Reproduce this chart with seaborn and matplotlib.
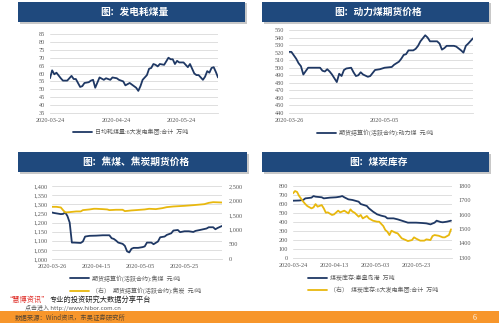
import matplotlib
matplotlib.use('Agg')
import matplotlib.pyplot as plt
import seaborn as sns
import pandas as pd
from matplotlib.patches import Rectangle

# ---------------- data ----------------
# Panel 1: 日均耗煤量 (day offset from 2020-03-24)
p1_days = [0, 1, 2, 3, 5, 6, 8, 9, 10, 11, 12, 13, 14, 15, 16, 18, 19, 20, 21, 23, 25, 26, 28, 29, 31, 32,
           34, 35, 37, 38, 40, 41, 42, 43, 45, 46, 47, 48, 49, 50, 51, 53, 55, 56, 57, 58, 59, 60, 62, 63,
           64, 65, 67, 68, 69, 71, 72, 73, 74, 75, 76, 77, 78]
p1_vals = [57, 62, 59.5, 60.5, 57, 55.5, 55.5, 57, 58.5, 56.5, 56.5, 54, 51.5, 52, 54, 54.5, 55.5, 56, 51,
           57.5, 56, 57, 56, 57.5, 57, 56, 55, 52.5, 54, 53, 51, 49, 52, 56, 59, 63, 63.5, 66, 65.5, 64.5,
           66, 65.5, 70, 69, 69, 66, 68, 67, 67, 65.5, 64, 66, 60, 59, 59, 56, 58, 61.5, 60.5, 63.5, 64, 61, 57.5]
p1_xticks = [0, 31, 61]
p1_xlabels = ['2020-03-24', '2020-04-24', '2020-05-24']
p1_yticks = [35, 40, 45, 50, 55, 60, 65, 70, 75, 80, 85]

# Panel 2: 动力煤期货 (day offset from 2020-03-26)
p2_days = [0, 1, 3, 4, 5, 6, 8, 9, 13, 14, 15, 16, 17, 18, 20, 21, 22, 23, 24, 26, 27, 28, 29, 30, 31, 33,
           34, 36, 38, 40, 43, 44, 46, 47, 48, 49, 50, 52, 53, 54, 55, 57, 58, 59, 61, 62, 63, 64, 65, 66,
           69, 70, 72, 73, 74, 75, 77]
p2_vals = [521, 521, 512, 506, 502, 491, 500, 500, 500, 496, 495, 498, 495, 491, 481, 492, 489, 497, 499,
           500, 494, 489, 490, 494, 491, 488, 489, 497, 498, 500, 501, 504, 508, 512, 517, 518, 523, 523,
           525, 529, 535, 543, 540, 535, 535, 535, 532, 524, 526, 529, 529, 528, 523, 520, 529, 532, 539]
p2_xticks = [0, 40]
p2_xlabels = ['2020-03-26', '2020-05-05']
p2_yticks = [440, 450, 460, 470, 480, 490, 500, 510, 520, 530, 540, 550]

# Panel 3: 焦煤 / 焦炭 (day offset from 2020-03-26)
p3_coal_days = [0, 1, 2, 4, 5, 6, 7, 8, 9, 10, 13, 14, 15, 17, 20, 23, 26, 27, 28, 29, 30, 32, 33, 34, 35,
                36, 37, 39, 41, 42, 43, 45, 46, 48, 49, 51, 52, 54, 55, 57, 58, 60, 62, 64, 65, 67, 70, 71,
                73, 74, 75, 77]
p3_coal_vals = [1255, 1252, 1250, 1246, 1247, 1255, 1235, 1200, 1090, 1090, 1088, 1096, 1123, 1127, 1128,
                1130, 1130, 1114, 1110, 1101, 1090, 1083, 1072, 1042, 1036, 1056, 1061, 1061, 1065, 1069,
                1090, 1090, 1081, 1096, 1119, 1123, 1132, 1141, 1156, 1159, 1147, 1152, 1152, 1148, 1154,
                1159, 1167, 1174, 1174, 1163, 1170, 1181]
p3_coke_days = [0, 2, 4, 5, 6, 8, 11, 13, 14, 17, 19, 20, 23, 25, 26, 29, 32, 33, 36, 38, 42, 44, 47, 50,
                52, 55, 60, 64, 69, 71, 73, 77]
p3_coke_vals = [1787, 1787, 1765, 1674, 1595, 1606, 1629, 1629, 1674, 1697, 1720, 1720, 1708, 1697, 1674,
                1686, 1686, 1640, 1663, 1674, 1697, 1720, 1708, 1742, 1776, 1799, 1821, 1844, 1878, 1923,
                1946, 1935]
p3_xticks = [0, 20, 40, 60]
p3_xlabels = ['2020-03-26', '2020-04-15', '2020-05-05', '2020-05-25']
p3_lticks = [1000, 1050, 1100, 1150, 1200, 1250, 1300, 1350, 1400]
p3_rticks = [0, 500, 1000, 1500, 2000, 2500]

# Panel 4: 煤炭库存 (day offset from 2020-03-24)
p4_port_days = [0, 3, 5, 6, 9, 10, 11, 14, 15, 18, 21, 23, 24, 25, 27, 29, 32, 33, 36, 37, 39, 41, 43, 45,
                46, 49, 51, 54, 56, 60, 63, 65, 67, 69, 70, 72, 73, 75, 77]
p4_port_vals = [636, 638, 644, 662, 670, 688, 681, 674, 662, 670, 674, 681, 688, 674, 651, 644, 625, 599,
                577, 551, 514, 484, 469, 458, 439, 439, 428, 406, 391, 391, 387, 383, 372, 391, 413, 398,
                395, 402, 413]
p4_plant_days = [0, 1, 2, 3, 5, 6, 7, 9, 10, 11, 12, 14, 15, 16, 17, 19, 20, 22, 23, 25, 27, 28, 29, 30,
                 32, 33, 34, 36, 37, 39, 41, 42, 44, 45, 46, 47, 48, 50, 51, 53, 55, 56, 58, 59, 60, 62, 64,
                 65, 67, 68, 69, 71, 73, 74, 76, 77]
p4_plant_vals = [1749, 1765, 1758, 1730, 1691, 1674, 1660, 1644, 1651, 1674, 1656, 1667, 1644, 1614, 1616,
                 1598, 1602, 1628, 1616, 1628, 1609, 1637, 1621, 1614, 1586, 1598, 1574, 1591, 1574, 1558,
                 1551, 1551, 1521, 1493, 1481, 1458, 1488, 1474, 1470, 1435, 1423, 1416, 1423, 1442, 1433,
                 1419, 1419, 1428, 1423, 1451, 1458, 1453, 1442, 1442, 1458, 1498]
p4_xticks = [0, 20, 40, 60]
p4_xlabels = ['2020-03-24', '2020-04-13', '2020-05-03', '2020-05-23']
p4_lticks = [0, 100, 200, 300, 400, 500, 600, 700, 800]
p4_rticks = [1300, 1400, 1500, 1600, 1700, 1800]

titles = ['图：发电耗煤量', '图：动力煤期货价格', '图：焦煤、焦炭期货价格', '图：煤炭库存']
leg1 = '日均耗煤量:6大发电集团:合计  万吨'
leg2 = '期货结算价(活跃合约):动力煤  元/吨'
leg3a = '期货结算价(活跃合约):焦煤  元/吨'
leg3b = '（右）  期货结算价(活跃合约):焦炭  元/吨'
leg4a = '煤炭库存:秦皇岛港  万吨'
leg4b = '（右）  煤炭库存:6大发电集团:合计  万吨'

# ---------------- style ----------------
sns.set_style('white')
plt.rcParams['font.family'] = ['Liberation Serif', 'Noto Sans CJK SC', 'DejaVu Sans']
NAVY = '#1F3864'
GOLD = '#E8B80E'
BAR = '#1F497D'
GRID = '#D9D9D9'
TXT = '#595959'
CJK = ['Noto Sans CJK SC', 'DejaVu Sans']

W, H = 499, 323
fig = plt.figure(figsize=(W / 100, H / 100), dpi=100)


def add_ax(l, t, r, b):
    return fig.add_axes([l / W, 1 - b / H, (r - l) / W, (b - t) / H])


def title_bar(l, t, r, b, text):
    fig.patches.append(Rectangle(((l + 1.5) / W, 1 - (b + 1.5) / H), (r - l) / W, (b - t) / H,
                                 transform=fig.transFigure, facecolor='#C8C8C8', edgecolor='none', zorder=0))
    fig.patches.append(Rectangle((l / W, 1 - b / H), (r - l) / W, (b - t) / H,
                                 transform=fig.transFigure, facecolor=BAR, edgecolor='none', zorder=1))
    fig.text((l + r) / 2 / W + 0.006, 1 - (t + b) / 2 / H, text, color='white', fontsize=7,
             fontweight='bold', family=CJK, ha='center', va='center')


def style(ax, yticks, ylabels, xticks, xlabels, xlim):
    ax.set_xlim(*xlim)
    ax.set_ylim(yticks[0], yticks[-1])
    ax.set_yticks(yticks)
    ax.set_yticklabels(ylabels)
    ax.set_xticks(xticks)
    ax.set_xticklabels(xlabels)
    ax.grid(axis='y', color=GRID, lw=0.6)
    ax.grid(axis='x', visible=False)
    for s in ['top', 'right', 'left']:
        ax.spines[s].set_visible(False)
    ax.spines['bottom'].set_color(GRID)
    ax.spines['bottom'].set_linewidth(0.6)
    ax.tick_params(length=0, labelsize=4.5, colors=TXT, pad=3.5)
    ax.set_xlabel('')
    ax.set_ylabel('')
    ax.set_facecolor('none')


def legend(ax, handles, labels, x, y):
    ax.legend(handles, labels, loc='upper left', bbox_to_anchor=(x / W, 1 - y / H),
              bbox_transform=fig.transFigure, frameon=False, fontsize=4.3, borderpad=0,
              borderaxespad=0, handlelength=3.2, handletextpad=0.5, labelspacing=0.9,
              labelcolor=TXT)


fmt_c = lambda v: f'{v:,}'

# ---- Panel 1 ----
title_bar(18, 2, 245, 22, titles[0])
ax1 = add_ax(50, 34, 218, 113)
sns.lineplot(x=p1_days, y=p1_vals, ax=ax1, color=NAVY, lw=1.3, label=leg1)
style(ax1, p1_yticks, [str(v) for v in p1_yticks], p1_xticks, p1_xlabels, (0, 78))
h, l = ax1.get_legend_handles_labels()
legend(ax1, h, l, 73, 129.5)

# ---- Panel 2 ----
title_bar(262, 2, 489, 22, titles[1])
ax2 = add_ax(289, 30, 473, 113)
sns.lineplot(x=p2_days, y=p2_vals, ax=ax2, color=NAVY, lw=1.3, label=leg2)
style(ax2, p2_yticks, [str(v) for v in p2_yticks], p2_xticks, p2_xlabels, (0, 77))
h, l = ax2.get_legend_handles_labels()
legend(ax2, h, l, 317, 129.5)

# ---- Panel 3 ----
title_bar(18, 152, 247, 172, titles[2])
ax3 = add_ax(52, 186, 222, 259)
ax3r = ax3.twinx()
sns.lineplot(x=p3_coal_days, y=p3_coal_vals, ax=ax3, color=NAVY, lw=1.3, label=leg3a)
sns.lineplot(x=p3_coke_days, y=p3_coke_vals, ax=ax3r, color=GOLD, lw=1.3, label=leg3b)
style(ax3, p3_lticks, [fmt_c(v) for v in p3_lticks], p3_xticks, p3_xlabels, (0, 77))
ax3r.set_ylim(p3_rticks[0], p3_rticks[-1])
ax3r.set_yticks(p3_rticks)
ax3r.set_yticklabels([fmt_c(v) for v in p3_rticks])
ax3r.grid(False)
for s in ax3r.spines.values():
    s.set_visible(False)
ax3r.tick_params(length=0, labelsize=4.5, colors=TXT, pad=5)
ax3r.set_ylabel('')
h1, l1 = ax3.get_legend_handles_labels()
h2, l2 = ax3r.get_legend_handles_labels()
if ax3r.get_legend():
    ax3r.get_legend().remove()
legend(ax3, h1 + h2, l1 + l2, 70, 275)

# ---- Panel 4 ----
title_bar(262, 152, 489, 172, titles[3])
ax4 = add_ax(293, 186, 452, 257.7)
ax4r = ax4.twinx()
sns.lineplot(x=p4_port_days, y=p4_port_vals, ax=ax4, color=NAVY, lw=1.3, label=leg4a)
sns.lineplot(x=p4_plant_days, y=p4_plant_vals, ax=ax4r, color=GOLD, lw=1.3, label=leg4b)
style(ax4, p4_lticks, [str(v) for v in p4_lticks], p4_xticks, p4_xlabels, (0, 77.5))
ax4r.set_ylim(p4_rticks[0], p4_rticks[-1])
ax4r.set_yticks(p4_rticks)
ax4r.set_yticklabels([str(v) for v in p4_rticks])
ax4r.grid(False)
for s in ax4r.spines.values():
    s.set_visible(False)
ax4r.tick_params(length=0, labelsize=4.5, colors=TXT, pad=5)
ax4r.set_ylabel('')
h1, l1 = ax4.get_legend_handles_labels()
h2, l2 = ax4r.get_legend_handles_labels()
if ax4r.get_legend():
    ax4r.get_legend().remove()
legend(ax4, h1 + h2, l1 + l2, 308, 275)

# ---- footer ----
fig.patches.append(Rectangle((0, 0), 1, 12 / H, transform=fig.transFigure,
                             facecolor='#F7962B', edgecolor='none', zorder=0))
fig.text(49.5 / W, 1 - 299.5 / H, '“慧博资讯”', color='#E0302A', fontsize=5.2, family=CJK,
         ha='right', va='center')
fig.text(50 / W, 1 - 299.5 / H, '专业的投资研究大数据分享平台', color='#222222', fontsize=5.2,
         family=CJK, ha='left', va='center')
fig.text(25 / W, 1 - 307.8 / H, '点击进入 http://www.hibor.com.cn', color='#333333', fontsize=4.3,
         family=CJK, ha='left', va='center', alpha=0.8)
fig.text(15 / W, 1 - 317.8 / H, '数据来源：Wind资讯，东吴证券研究所', color='#333333', fontsize=4.6,
         family=CJK, ha='left', va='center', alpha=0.8)
fig.text(475 / W, 1 - 318 / H, '6', color='white', fontsize=5.5, ha='center', va='center')

fig.savefig('out.png', dpi=100)
